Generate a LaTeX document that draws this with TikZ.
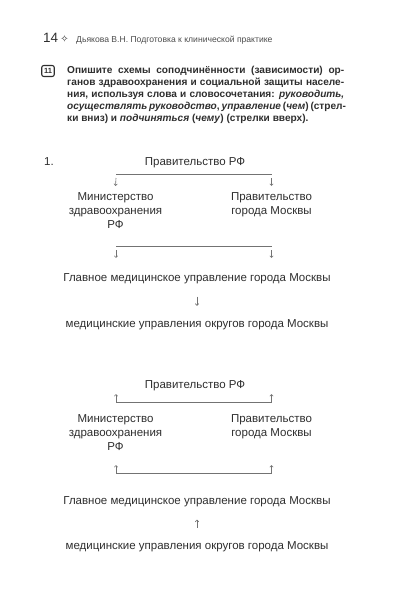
\documentclass[tikz,border=0pt]{standalone}
\usepackage{fontspec}
\setmainfont{Liberation Sans}
\newfontfamily\symfont{DejaVu Sans}
\usetikzlibrary{arrows.meta}
\colorlet{ink}{black!82}
\colorlet{rule}{black!55}
\newcommand\fullline[1]{\hbox to 277bp{#1}}
\tikzset{box/.style={font=\fontsize{11.5bp}{14.3bp}\selectfont, text=ink,
        inner sep=0pt, align=center},
    tie/.style={draw=rule, line width=0.6bp},
    down/.style={draw=rule, line width=0.6bp,
        -{Straight Barb[length=1.8bp,width=3.4bp]}}}

\begin{document}
\begin{tikzpicture}[x=1bp, y=-1bp]
    \useasboundingbox (0,0) rectangle (416,606);
    % page head
    \node[anchor=base west, inner sep=0pt, text=ink,
        font=\fontsize{13.5bp}{14bp}\selectfont] (page) at (43,43) {14};
    \node[text=ink, inner sep=0pt, font=\symfont\fontsize{10bp}{10bp}\selectfont]
        (star) at (64.5,38.5) {✧};
    \node[anchor=base west, inner sep=0pt, text=black!70,
        font=\fontsize{8.6bp}{10bp}\selectfont] (head) at (76,42.5)
        {Дьякова В.Н. Подготовка к клинической практике};
    % task
    \node[draw=ink, line width=1.1bp, rounded corners=2bp, text=ink,
        minimum width=12.5bp, minimum height=11bp, inner sep=0pt,
        font=\bfseries\fontsize{7.5bp}{8bp}\selectfont] (num) at (48,71) {11};
    \node[anchor=north west, inner sep=0pt, align=left,
        text=ink, font=\bfseries\fontsize{10.1bp}{12bp}\selectfont] (task) at (67,66)
        {\fullline{Опишите схемы соподчинённости (зависимости) ор-}\\
        \fullline{ганов здравоохранения и социальной защиты населе-}\\
        \fullline{ния, используя слова и словосочетания: \textit{руководить,}}\\
        \fullline{\textit{осуществлять руководство}, \textit{управление} (\textit{чем}) (стрел-}\\
        ки вниз) и \textit{подчиняться} (\textit{чему}) (стрелки вверх).};

    % scheme 1
    \node[box, anchor=base west] (one) at (44,166) {1.};
    \node[box, anchor=base] (gov) at (195,166) {Правительство РФ};
    \node[box, anchor=north] (min) at (115.5,192)
        {Министерство\\здравоохранения\\РФ};
    \node[box, anchor=north] (city) at (271.5,192)
        {Правительство\\города Москвы};
    \node[box, anchor=base] (main) at (197,281)
        {Главное медицинское управление города Москвы};
    \node[box, anchor=base] (dist) at (197,327)
        {медицинские управления округов города Москвы};
    \coordinate (l1) at (116,174);
    \coordinate (r1) at (271.5,174);
    \coordinate (l2) at (116,246);
    \coordinate (r2) at (271.5,246);
    \draw[tie] (l1) -- (r1);
    \draw[down] ([yshift=-4bp]l1) -- ([yshift=6bp]min.north);
    \draw[down] ([yshift=-4bp]r1) -- ([yshift=6bp]city.north);
    \draw[tie] (l2) -- (r2);
    \draw[down] ([yshift=-4bp]l2) -- ([yshift=-12bp]l2);
    \draw[down] ([yshift=-4bp]r2) -- ([yshift=-12bp]r2);
    \draw[down] ([yshift=-13bp]main.south) -- ([yshift=13bp]dist.north);

    % scheme 2
    \node[box, anchor=base] (gov2) at (195,388) {Правительство РФ};
    \node[box, anchor=north] (min2) at (115.5,414)
        {Министерство\\здравоохранения\\РФ};
    \node[box, anchor=north] (city2) at (271.5,414)
        {Правительство\\города Москвы};
    \node[box, anchor=base] (main2) at (197,504)
        {Главное медицинское управление города Москвы};
    \node[box, anchor=base] (dist2) at (197,549)
        {медицинские управления округов города Москвы};
    \coordinate (l3) at (116,402);
    \coordinate (r3) at (271.5,402);
    \coordinate (l4) at (116,473);
    \coordinate (r4) at (271.5,473);
    \draw[tie] (l3) -- (r3);
    \draw[down] (l3) -- ([yshift=8bp]l3);
    \draw[down] (r3) -- ([yshift=8bp]r3);
    \draw[tie] (l4) -- (r4);
    \draw[down] (l4) -- ([yshift=8bp]l4);
    \draw[down] (r4) -- ([yshift=8bp]r4);
    \draw[down] ([yshift=13bp]dist2.north) -- ([yshift=-13bp]main2.south);
\end{tikzpicture}
\end{document}
